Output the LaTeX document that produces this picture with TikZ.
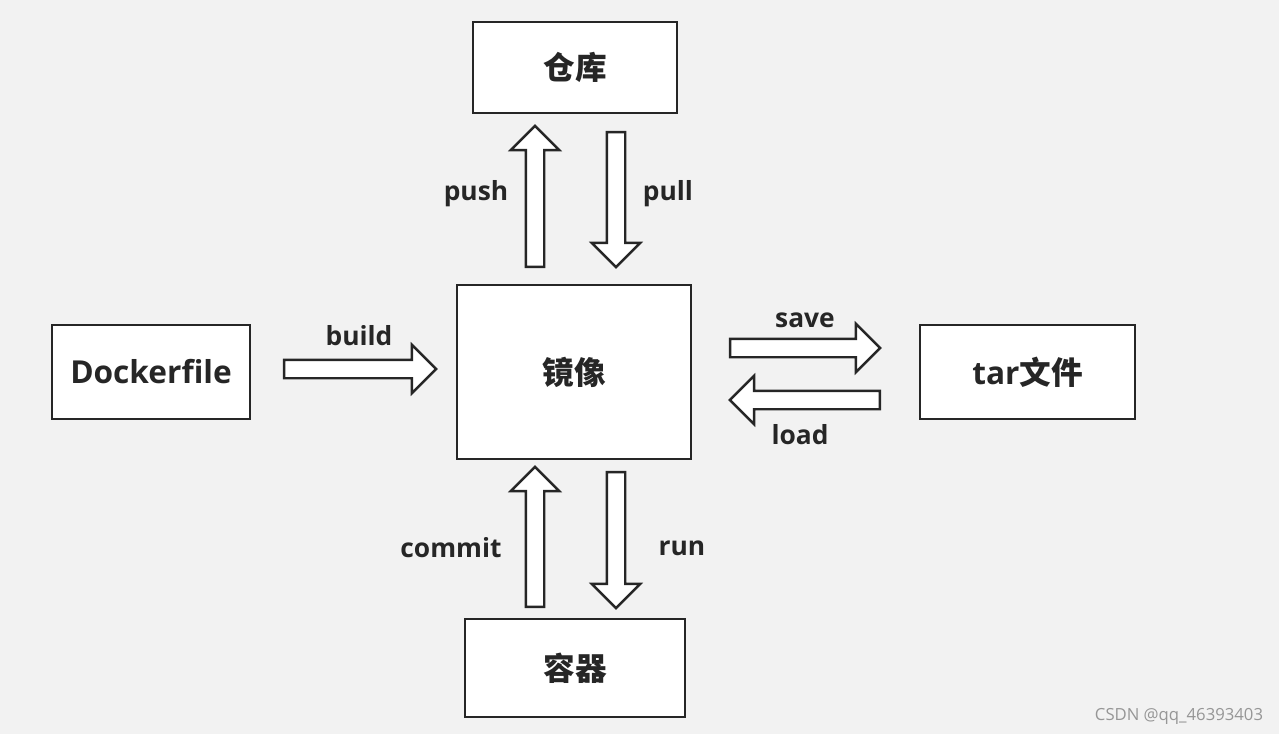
\documentclass[tikz,border=0pt]{standalone}
\usepackage{fontspec}
\setmainfont{Open Sans}
\newfontfamily\cjk{Noto Sans CJK SC}
\usetikzlibrary{shapes.arrows}
\definecolor{bggray}{RGB}{242, 242, 242}
\definecolor{linedark}{RGB}{38, 38, 38}
\definecolor{marktext}{RGB}{150, 150, 150}

\tikzset{
  box/.style={draw=linedark, line width=1.3pt, fill=white, inner sep=0pt,
    font=\fontsize{18}{20}\selectfont\bfseries, text=linedark},
  fatarrow/.style={single arrow, draw=linedark, line width=1.4pt, fill=white,
    inner sep=0.16cm, minimum width=0pt, single arrow head extend=0.3cm},
  lbl/.style={font=\fontsize{15}{17}\selectfont\bfseries, text=linedark}
}

\begin{document}
\begin{tikzpicture}[x=0.02cm, y=-0.02cm]
  \fill[bggray] (0,0) rectangle (1279,734);
  \useasboundingbox (0,0) rectangle (1279,734);

  \node[box, minimum width=4.08cm, minimum height=1.82cm] (repo) at (575,67.5) {\cjk 仓库};
  \node[box, minimum width=4.68cm, minimum height=3.48cm] (image) at (574,372) {\cjk 镜像};
  \node[box, minimum width=3.96cm, minimum height=1.88cm] (dockerfile) at (151,372) {Dockerfile};
  \node[box, minimum width=4.3cm, minimum height=1.88cm] (tarfile) at (1027.5,372) {tar{\cjk 文件}};
  \node[box, minimum width=4.4cm, minimum height=1.96cm] (container) at (575,668) {\cjk 容器};

  \node[fatarrow, shape border rotate=90, minimum height=2.82cm] (push) at (535,201) {};
  \node[fatarrow, shape border rotate=270, minimum height=2.7cm] (pull) at (616,195) {};
  \node[fatarrow, minimum height=3.04cm] (build) at (355.5,369) {};
  \node[fatarrow, minimum height=3.0cm] (save) at (800.5,348) {};
  \node[fatarrow, shape border rotate=180, minimum height=3.0cm] (load) at (809.5,400) {};
  \node[fatarrow, shape border rotate=90, minimum height=2.8cm] (commit) at (535,541.5) {};
  \node[fatarrow, shape border rotate=270, minimum height=2.72cm] (run) at (616,535.5) {};

  \node[lbl] (pushlbl) at (476,194) {push};
  \node[lbl] (pulllbl) at (668,194) {pull};
  \node[lbl] (buildlbl) at (359,336) {build};
  \node[lbl] (savelbl) at (805,320) {save};
  \node[lbl] (loadlbl) at (800,435) {load};
  \node[lbl] (commitlbl) at (451,548) {commit};
  \node[lbl] (runlbl) at (682,548) {run};

  \node[font=\fontsize{9.5}{11}\selectfont, text=marktext] (mark) at (1179,716) {CSDN @qq\_46393403};
\end{tikzpicture}
\end{document}
